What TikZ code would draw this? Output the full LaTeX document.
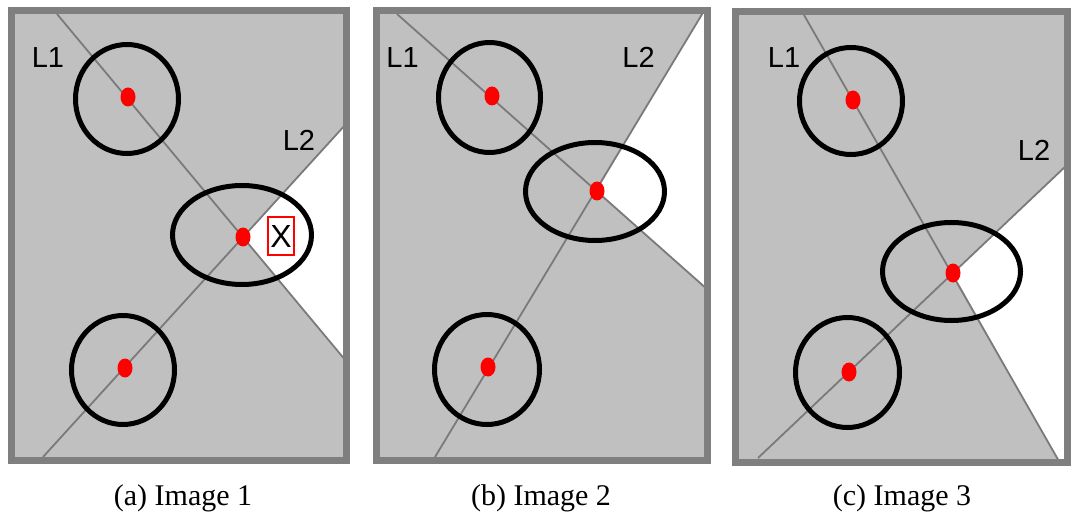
\documentclass[tikz,border=0pt]{standalone}
\usepackage{fontspec}
\setmainfont{Liberation Serif}
\newfontfamily\labelfont{Liberation Sans}
\usetikzlibrary{shapes.geometric}
\definecolor{panelgray}{HTML}{C0C0C0}
\definecolor{framegray}{HTML}{7F7F7F}
\definecolor{linegray}{HTML}{7A7A7A}
\tikzset{
  panelfill/.style={fill=panelgray, draw=none},
  frame/.style={draw=framegray, line width=7pt},
  free/.style={fill=white, draw=none},
  sepline/.style={draw=linegray, line width=1.8pt},
  ring/.style={draw=black, line width=5pt},
  reddot/.style={ellipse, fill=red, minimum width=15pt, minimum height=19pt, inner sep=0pt},
  linelabel/.style={font=\labelfont\fontsize{29}{29}\selectfont, inner sep=0pt},
  xbox/.style={draw=red, line width=1.2pt, minimum width=26pt, minimum height=38pt, inner sep=0pt,
               font=\labelfont\fontsize{32}{32}\selectfont},
  caption/.style={font=\fontsize{30}{30}\selectfont, inner sep=0pt, anchor=base}
}
\begin{document}
\begin{tikzpicture}[x=1pt, y=-1pt]
\useasboundingbox (0,0) rectangle (1071,513);

% ---------- (a) Image 1 ----------
\fill[panelfill] (11.5,10.5) rectangle (346.5,460.5);
\fill[free] (243,237) -- (346,124) -- (346,362) -- cycle;
\draw[sepline] (57,14) -- (346,361);
\draw[sepline] (43,457) -- (346,124);
\draw[ring] (127,99) ellipse [x radius=51.5pt, y radius=54.5pt];
\draw[ring] (123,370) ellipse [x radius=51.5pt, y radius=54.5pt];
\draw[ring] (242,235) ellipse [x radius=69.5pt, y radius=49.5pt];
\node[reddot] (a1) at (128,97) {};
\node[reddot] (a2) at (243,237) {};
\node[reddot] (a3) at (125,368) {};
\node[xbox] (ax) at (281,236) {X};
\node[linelabel] (aL1) at (48,58) {L1};
\node[linelabel] (aL2) at (299,140) {L2};
\draw[frame] (11.5,10.5) rectangle (346.5,460.5);
\node[caption] (capa) at (183,505) {(a) Image 1};

% ---------- (b) Image 2 ----------
\fill[panelfill] (376.5,10.5) rectangle (707.5,460.5);
\fill[free] (597,191) -- (702,14) -- (708,14) -- (708,290) -- cycle;
\draw[sepline] (397,14) -- (708,290);
\draw[sepline] (435,457) -- (704,11);
\draw[ring] (489.5,97.5) ellipse [x radius=51pt, y radius=55pt];
\draw[ring] (487,369.5) ellipse [x radius=52.5pt, y radius=55pt];
\draw[ring] (595,191.5) ellipse [x radius=69.5pt, y radius=49pt];
\node[reddot] (b1) at (492,96) {};
\node[reddot] (b2) at (597,191) {};
\node[reddot] (b3) at (488,367) {};
\node[linelabel] (bL1) at (402.5,58) {L1};
\node[linelabel] (bL2) at (638.5,57.5) {L2};
\draw[frame] (376.5,10.5) rectangle (707.5,460.5);
\node[caption] (capb) at (541,505) {(b) Image 2};

% ---------- (c) Image 3 ----------
\fill[panelfill] (735.5,11.5) rectangle (1067.5,462.5);
\fill[free] (953,273) -- (1068,164) -- (1068,463) -- (1060,463) -- cycle;
\draw[sepline] (804,15) -- (1060,463);
\draw[sepline] (758,458) -- (1068,164);
\draw[ring] (851,101) ellipse [x radius=51.5pt, y radius=53.5pt];
\draw[ring] (847.5,372.5) ellipse [x radius=52pt, y radius=55pt];
\draw[ring] (951.5,271.5) ellipse [x radius=69pt, y radius=49pt];
\node[reddot] (c1) at (853,100) {};
\node[reddot] (c2) at (953,273) {};
\node[reddot] (c3) at (849,372) {};
\node[linelabel] (cL1) at (784,58) {L1};
\node[linelabel] (cL2) at (1034,150) {L2};
\draw[frame] (735.5,11.5) rectangle (1067.5,462.5);
\node[caption] (capc) at (902,505) {(c) Image 3};
\end{tikzpicture}
\end{document}
